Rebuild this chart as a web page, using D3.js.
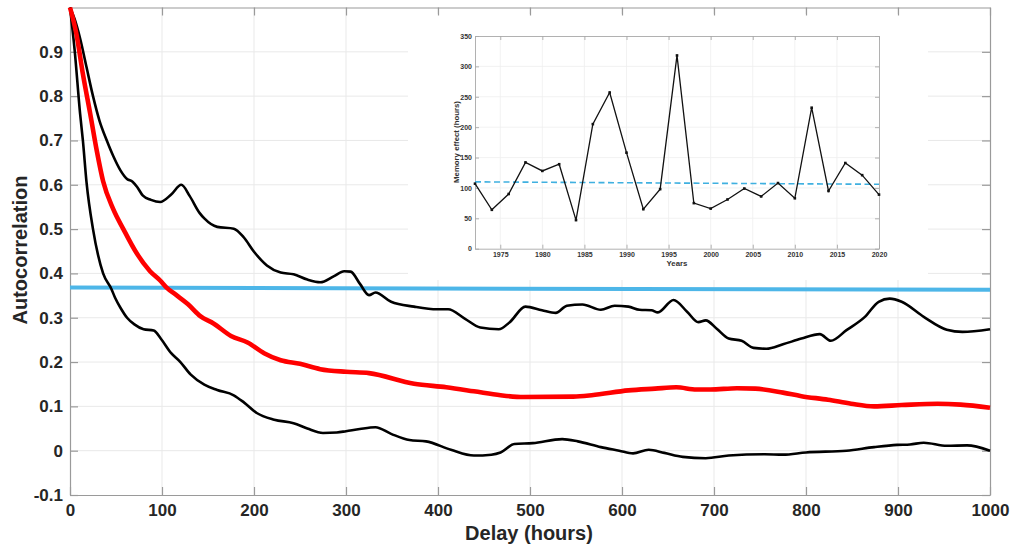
<!DOCTYPE html>
<html>
<head>
<meta charset="utf-8">
<script src="https://cdn.jsdelivr.net/npm/d3@7"></script>
<style>
  body { margin: 0; background: #fff; }
  svg { display: block; font-family: "Liberation Sans", Arial, sans-serif; }
</style>
</head>
<body>
<div id="mydiv"></div>
<script>
// main chart: autocorrelation vs delay, [delay (hours), value]
var upperCurve = [[0,1.0],[5,0.974],[11,0.93],[18,0.865],[25,0.80],[32,0.745],[40,0.70],[47,0.665],[55,0.632],[62,0.613],[68,0.607],[73,0.595],[79,0.576],[88,0.566],[98,0.561],[110,0.578],[121,0.60],[130,0.575],[141,0.536],[146,0.524],[160,0.505],[178,0.501],[189,0.481],[200,0.449],[214,0.418],[229,0.402],[243,0.398],[258,0.386],[272,0.38],[287,0.394],[298,0.405],[305,0.404],[315,0.377],[325,0.351],[332,0.357],[349,0.336],[374,0.325],[399,0.319],[411,0.319],[429,0.298],[446,0.278],[466,0.274],[478,0.29],[495,0.325],[513,0.317],[528,0.311],[540,0.327],[557,0.330],[577,0.318],[592,0.327],[607,0.325],[619,0.318],[632,0.317],[639,0.312],[656,0.34],[671,0.313],[683,0.29],[691,0.294],[703,0.275],[716,0.253],[730,0.248],[743,0.232],[757,0.230],[775,0.24],[795,0.253],[815,0.263],[827,0.248],[844,0.272],[864,0.302],[879,0.336],[891,0.343],[904,0.336],[928,0.302],[953,0.273],[970,0.268],[1000,0.274]];

var meanCurve = [[0,1.0],[7,0.94],[14,0.85],[22,0.76],[29,0.678],[36,0.608],[47,0.545],[58,0.50],[72,0.447],[87,0.405],[98,0.384],[105,0.368],[115,0.352],[128,0.331],[142,0.303],[156,0.287],[175,0.259],[193,0.244],[211,0.22],[229,0.204],[250,0.196],[272,0.184],[300,0.178],[325,0.175],[374,0.151],[409,0.143],[439,0.134],[468,0.125],[493,0.121],[547,0.122],[567,0.125],[607,0.136],[636,0.14],[659,0.143],[681,0.138],[696,0.138],[725,0.141],[745,0.14],[775,0.131],[795,0.123],[824,0.115],[849,0.106],[874,0.1],[904,0.103],[943,0.106],[968,0.104],[1000,0.097]];

var lowerCurve = [[0,1.0],[5,0.905],[11,0.76],[14,0.70],[18,0.605],[25,0.50],[36,0.40],[45,0.365],[49,0.345],[55,0.322],[62,0.30],[70,0.285],[80,0.274],[91,0.271],[99,0.252],[110,0.22],[120,0.2],[131,0.172],[146,0.149],[160,0.137],[178,0.125],[189,0.109],[203,0.085],[222,0.07],[243,0.062],[258,0.05],[275,0.04],[290,0.041],[300,0.044],[315,0.049],[332,0.053],[349,0.038],[369,0.024],[387,0.021],[414,0.002],[439,-0.011],[458,-0.009],[468,-0.004],[483,0.015],[503,0.017],[535,0.026],[552,0.021],[577,0.008],[597,0],[612,-0.006],[629,0.002],[646,-0.005],[666,-0.014],[691,-0.017],[716,-0.011],[755,-0.008],[775,-0.009],[800,-0.004],[844,0],[874,0.008],[899,0.013],[913,0.014],[928,0.018],[953,0.011],[975,0.012],[1000,0]];

var thresholdLine = [[0,0.368],[1000,0.363]];

var delayTicks = [0,100,200,300,400,500,600,700,800,900,1000];
var acfTicks = [-0.1,0,0.1,0.2,0.3,0.4,0.5,0.6,0.7,0.8,0.9];

// inset: memory effect per year
var years = [1972,1974,1976,1978,1980,1982,1984,1986,1988,1990,1992,1994,1996,1998,2000,2002,2004,2006,2008,2010,2012,2014,2016,2018,2020];
var memoryHours = [107,64,90,142,128,139,47,205,257,158,65,98,318,75,66,81,99,86,108,83,232,95,141,121,89];
var memoryTrend = [[1972,110],[2020,106]];
var yearTicks = [1975,1980,1985,1990,1995,2000,2005,2010,2015,2020];
var hourTicks = [0,50,100,150,200,250,300,350];

var overAllWidth = 1014;
var overAllHeight = 548;

function main() {
    var svg = d3.select('#mydiv')
        .append('svg')
        .attr('width', overAllWidth)
        .attr('height', overAllHeight);

    svg.append('rect')
        .attr('width', overAllWidth)
        .attr('height', overAllHeight)
        .attr('fill', '#fff');

    drawMain(svg);
    drawInset(svg);
}

function acfLabel(d) {
    return String(+d.toFixed(1));
}

function drawMain(svg) {
    var x = d3.scaleLinear().domain([0, 1000]).range([70, 990]);
    var y = d3.scaleLinear().domain([-0.1, 1.0]).range([495, 7.5]);

    var grid = svg.append('g').attr('stroke', '#e9e9e9').attr('stroke-width', 1);
    grid.selectAll('.vg')
        .data(delayTicks.slice(1, -1))
        .enter()
        .append('line')
        .attr('x1', function (d) { return x(d); })
        .attr('x2', function (d) { return x(d); })
        .attr('y1', y(-0.1))
        .attr('y2', y(1.0));
    grid.selectAll('.hg')
        .data(acfTicks.slice(1))
        .enter()
        .append('line')
        .attr('x1', x(0))
        .attr('x2', x(1000))
        .attr('y1', function (d) { return y(d); })
        .attr('y2', function (d) { return y(d); });

    // white panel behind the inset figure
    svg.append('rect')
        .attr('x', 408)
        .attr('y', 14)
        .attr('width', 520)
        .attr('height', 266)
        .attr('fill', '#fff');

    var bottom = svg.append('g')
        .attr('transform', 'translate(0,' + y(-0.1) + ')')
        .call(d3.axisBottom(x).tickValues(delayTicks).tickFormat(d3.format('d')).tickSize(-8).tickPadding(9).tickSizeOuter(0));
    var left = svg.append('g')
        .attr('transform', 'translate(' + x(0) + ',0)')
        .call(d3.axisLeft(y).tickValues(acfTicks).tickFormat(acfLabel).tickSize(-8).tickPadding(7).tickSizeOuter(0));
    var top = svg.append('g')
        .attr('transform', 'translate(0,' + y(1.0) + ')')
        .call(d3.axisTop(x).tickValues(delayTicks).tickSize(-8).tickFormat('').tickSizeOuter(0));
    var right = svg.append('g')
        .attr('transform', 'translate(' + x(1000) + ',0)')
        .call(d3.axisRight(y).tickValues(acfTicks).tickSize(-8).tickFormat('').tickSizeOuter(0));

    [bottom, left, top, right].forEach(function (a) {
        a.select('.domain').attr('stroke', '#9a9a9a').attr('stroke-width', 1.2);
        a.selectAll('.tick line').attr('stroke', '#9a9a9a').attr('stroke-width', 1.2);
        a.selectAll('.tick text')
            .attr('fill', '#262626')
            .attr('font-size', 17)
            .attr('font-weight', 'bold')
            .attr('font-family', '"Liberation Sans", Arial, sans-serif');
    });

    var line = d3.line()
        .x(function (d) { return x(d[0]); })
        .y(function (d) { return y(d[1]); })
        .curve(d3.curveMonotoneX);

    svg.append('path')
        .datum(thresholdLine)
        .attr('d', line)
        .attr('fill', 'none')
        .attr('stroke', '#4db6e8')
        .attr('stroke-width', 4);

    svg.append('path')
        .datum(upperCurve)
        .attr('d', line)
        .attr('fill', 'none')
        .attr('stroke', '#000')
        .attr('stroke-width', 2.6)
        .attr('stroke-linejoin', 'round');

    svg.append('path')
        .datum(lowerCurve)
        .attr('d', line)
        .attr('fill', 'none')
        .attr('stroke', '#000')
        .attr('stroke-width', 2.6)
        .attr('stroke-linejoin', 'round');

    svg.append('path')
        .datum(meanCurve)
        .attr('d', line)
        .attr('fill', 'none')
        .attr('stroke', '#ff0000')
        .attr('stroke-width', 4.6)
        .attr('stroke-linejoin', 'round');

    svg.append('text')
        .attr('transform', 'translate(27,250) rotate(-90)')
        .attr('text-anchor', 'middle')
        .attr('font-size', 20)
        .attr('font-weight', 'bold')
        .attr('fill', '#262626')
        .text('Autocorrelation');

    svg.append('text')
        .attr('x', 529)
        .attr('y', 540)
        .attr('text-anchor', 'middle')
        .attr('font-size', 20)
        .attr('font-weight', 'bold')
        .attr('fill', '#262626')
        .text('Delay (hours)');
}

function drawInset(svg) {
    var ix = d3.scaleLinear().domain([1972, 2020]).range([475, 879]);
    var iy = d3.scaleLinear().domain([0, 350]).range([248.7, 36]);

    var g = svg.append('g').attr('class', 'inset');

    var grid = g.append('g').attr('stroke', '#efefef').attr('stroke-width', 0.8);
    grid.selectAll('.vg')
        .data(yearTicks.slice(0, -1))
        .enter()
        .append('line')
        .attr('x1', function (d) { return ix(d); })
        .attr('x2', function (d) { return ix(d); })
        .attr('y1', iy(0))
        .attr('y2', iy(350));
    grid.selectAll('.hg')
        .data(hourTicks.slice(1, -1))
        .enter()
        .append('line')
        .attr('x1', ix(1972))
        .attr('x2', ix(2020))
        .attr('y1', function (d) { return iy(d); })
        .attr('y2', function (d) { return iy(d); });

    var bottom = g.append('g')
        .attr('transform', 'translate(0,' + iy(0) + ')')
        .call(d3.axisBottom(ix).tickValues(yearTicks).tickSize(-4).tickPadding(3).tickFormat(d3.format('d')).tickSizeOuter(0));
    var left = g.append('g')
        .attr('transform', 'translate(' + ix(1972) + ',0)')
        .call(d3.axisLeft(iy).tickValues(hourTicks).tickSize(-4).tickPadding(3).tickSizeOuter(0));
    var top = g.append('g')
        .attr('transform', 'translate(0,' + iy(350) + ')')
        .call(d3.axisTop(ix).tickValues(yearTicks).tickSize(-4).tickFormat('').tickSizeOuter(0));
    var right = g.append('g')
        .attr('transform', 'translate(' + ix(2020) + ',0)')
        .call(d3.axisRight(iy).tickValues(hourTicks).tickSize(-4).tickFormat('').tickSizeOuter(0));

    [bottom, left, top, right].forEach(function (a) {
        a.select('.domain').attr('stroke', '#a8a8a8').attr('stroke-width', 0.9);
        a.selectAll('.tick line').attr('stroke', '#a8a8a8').attr('stroke-width', 0.9);
        a.selectAll('.tick text')
            .attr('fill', '#333')
            .attr('font-size', 7)
            .attr('font-weight', 'bold')
            .attr('font-family', '"Liberation Sans", Arial, sans-serif');
    });

    g.append('path')
        .datum(memoryTrend)
        .attr('d', d3.line()
            .x(function (d) { return ix(d[0]); })
            .y(function (d) { return iy(d[1]); }))
        .attr('fill', 'none')
        .attr('stroke', '#3fb0e0')
        .attr('stroke-width', 1.6)
        .attr('stroke-dasharray', '6,3.5');

    var pts = years.map(function (yr, i) { return [yr, memoryHours[i]]; });

    g.append('path')
        .datum(pts)
        .attr('d', d3.line()
            .x(function (d) { return ix(d[0]); })
            .y(function (d) { return iy(d[1]); }))
        .attr('fill', 'none')
        .attr('stroke', '#111')
        .attr('stroke-width', 1.3);

    g.selectAll('.mk')
        .data(pts)
        .enter()
        .append('rect')
        .attr('x', function (d) { return ix(d[0]) - 1.3; })
        .attr('y', function (d) { return iy(d[1]) - 1.3; })
        .attr('width', 2.6)
        .attr('height', 2.6)
        .attr('fill', '#111');

    g.append('text')
        .attr('transform', 'translate(459,142) rotate(-90)')
        .attr('text-anchor', 'middle')
        .attr('font-size', 7.8)
        .attr('font-weight', 'bold')
        .attr('fill', '#333')
        .text('Memory effect (hours)');

    g.append('text')
        .attr('x', 677)
        .attr('y', 266)
        .attr('text-anchor', 'middle')
        .attr('font-size', 7.8)
        .attr('font-weight', 'bold')
        .attr('fill', '#333')
        .text('Years');
}

main();
</script>
</body>
</html>
